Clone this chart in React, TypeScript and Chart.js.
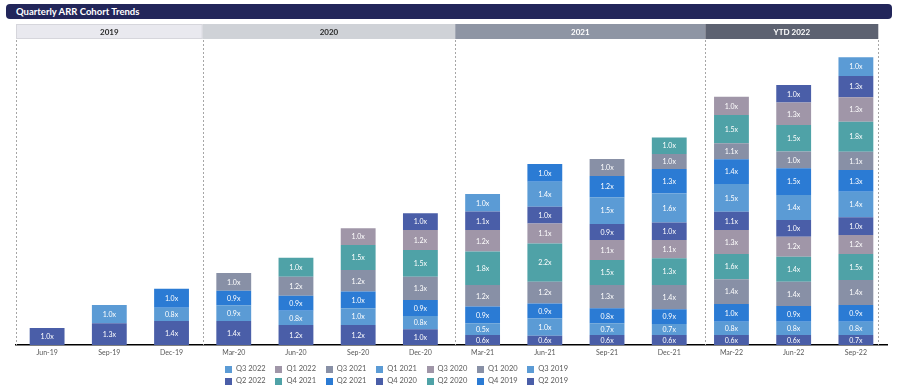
import React, { useEffect, useRef } from "react";
import { Chart, registerables } from "chart.js";

Chart.register(...registerables);

const periods = ["Jun-19", "Sep-19", "Dec-19", "Mar-20", "Jun-20", "Sep-20", "Dec-20", "Mar-21", "Jun-21", "Sep-21", "Dec-21", "Mar-22", "Jun-22", "Sep-22"];
const cohorts = ["Q2 2019", "Q3 2019", "Q4 2019", "Q1 2020", "Q2 2020", "Q3 2020", "Q4 2020", "Q1 2021", "Q2 2021", "Q3 2021", "Q4 2021", "Q1 2022", "Q2 2022", "Q3 2022"];

// ARR by cohort (bottom to top) for each period, arbitrary units
const arrJun19 = [17];
const arrSep19 = [21.7, 18.3];
const arrDec19 = [24, 13.3, 19];
const arrMar20 = [24, 15.7, 14.6, 17.7];
const arrJun20 = [20, 14.3, 15, 19, 19];
const arrSep20 = [20, 16.7, 16.7, 21.7, 25, 16.7];
const arrDec20 = [15.7, 13.3, 16, 23.3, 26.7, 20, 16.7];
const arrMar21 = [10, 11.7, 16.7, 21.7, 33.3, 21.7, 18.3, 17.7];
const arrJun21 = [9.3, 17.3, 15, 21.7, 38.3, 20, 16.7, 25, 17.7];
const arrSep21 = [10, 11.7, 15, 23.3, 25, 20, 16, 26.7, 21.3, 17];
const arrDec21 = [10, 11, 14.7, 24.3, 26.7, 18.3, 17.6, 29, 24.4, 15, 16.6];
const arrMar22 = [10, 13.3, 17.7, 24.7, 25.3, 24, 18.3, 27.7, 24.7, 16, 28.3, 18.3];
const arrJun22 = [10, 13.3, 15.7, 24.3, 25, 20, 16.7, 25, 26.7, 16.7, 26.7, 22.3, 17.7];
const arrSep22 = [10, 13.3, 16.7, 25, 26, 19, 17.7, 25.6, 21.7, 18.3, 30, 24.4, 21.3, 18.7];

// multiplier labels per period (bottom to top)
const lblJun19 = ["1.0x"];
const lblSep19 = ["1.3x", "1.0x"];
const lblDec19 = ["1.4x", "0.8x", "1.0x"];
const lblMar20 = ["1.4x", "0.9x", "0.9x", "1.0x"];
const lblJun20 = ["1.2x", "0.8x", "0.9x", "1.2x", "1.0x"];
const lblSep20 = ["1.2x", "1.0x", "1.0x", "1.2x", "1.5x", "1.0x"];
const lblDec20 = ["1.0x", "0.8x", "0.9x", "1.3x", "1.5x", "1.2x", "1.0x"];
const lblMar21 = ["0.6x", "0.5x", "0.9x", "1.2x", "1.8x", "1.2x", "1.1x", "1.0x"];
const lblJun21 = ["0.6x", "1.0x", "0.9x", "1.2x", "2.2x", "1.1x", "1.0x", "1.4x", "1.0x"];
const lblSep21 = ["0.6x", "0.7x", "0.8x", "1.3x", "1.5x", "1.1x", "0.9x", "1.5x", "1.2x", "1.0x"];
const lblDec21 = ["0.6x", "0.7x", "0.9x", "1.4x", "1.3x", "1.1x", "1.0x", "1.6x", "1.3x", "1.0x", "1.0x"];
const lblMar22 = ["0.6x", "0.8x", "1.0x", "1.4x", "1.6x", "1.3x", "1.1x", "1.5x", "1.4x", "1.1x", "1.5x", "1.0x"];
const lblJun22 = ["0.6x", "0.8x", "0.9x", "1.4x", "1.4x", "1.2x", "1.0x", "1.4x", "1.5x", "1.0x", "1.5x", "1.3x", "1.0x"];
const lblSep22 = ["0.7x", "0.8x", "0.9x", "1.4x", "1.5x", "1.2x", "1.0x", "1.4x", "1.3x", "1.1x", "1.8x", "1.3x", "1.3x", "1.0x"];

const arrByPeriod = [arrJun19, arrSep19, arrDec19, arrMar20, arrJun20, arrSep20, arrDec20, arrMar21, arrJun21, arrSep21, arrDec21, arrMar22, arrJun22, arrSep22];
const lblByPeriod = [lblJun19, lblSep19, lblDec19, lblMar20, lblJun20, lblSep20, lblDec20, lblMar21, lblJun21, lblSep21, lblDec21, lblMar22, lblJun22, lblSep22];

const palette = ["#4a5ea8", "#5b9bd5", "#2b7bd4", "#8890a6", "#4fa2a7", "#a096a8"];
const cohortColors = cohorts.map((_, i) => palette[i % palette.length]);

const yearGroups = ["2019", "2020", "2021", "YTD 2022"];
const legendRow1 = ["Q3 2022", "Q1 2022", "Q3 2021", "Q1 2021", "Q3 2020", "Q1 2020", "Q3 2019"];
const legendRow2 = ["Q2 2022", "Q4 2021", "Q2 2021", "Q4 2020", "Q2 2020", "Q4 2019", "Q2 2019"];

const FONT = "Lato, 'Open Sans', sans-serif";

const headerPlugin = {
  id: "yearHeaders",
  beforeDatasetsDraw(chart: any) {
    const ctx = chart.ctx;
    const xs = chart.scales.x;
    const ca = chart.chartArea;
    const p0 = xs.getPixelForValue(0);
    const step = xs.getPixelForValue(1) - p0;
    const bounds = [-0.5, 2.5, 6.56, 10.58, 13.36];
    const bgs = ["#e9e9ef", "#cfd2d7", "#8e95a4", "#5d6271"];
    const fgs = ["#2b2b2b", "#2b2b2b", "#ffffff", "#ffffff"];
    const top = ca.top - 16;
    const h = 15;
    ctx.save();
    yearGroups.forEach((g, i) => {
      const x1 = p0 + bounds[i] * step;
      const x2 = p0 + bounds[i + 1] * step;
      ctx.fillStyle = bgs[i];
      ctx.fillRect(x1, top, x2 - x1, h);
      ctx.strokeStyle = "#d6d6dc";
      ctx.lineWidth = 1;
      if (i === 0) ctx.strokeRect(x1 + 0.5, top + 0.5, x2 - x1 - 1, h - 1);
      ctx.fillStyle = fgs[i];
      ctx.font = `bold 8px ${FONT}`;
      ctx.textAlign = "center";
      ctx.textBaseline = "middle";
      ctx.fillText(g, (x1 + x2) / 2, top + h / 2 + 0.5);
    });
    ctx.strokeStyle = "#a6a6a6";
    ctx.lineWidth = 1;
    ctx.setLineDash([2, 2]);
    bounds.forEach((b) => {
      const x = Math.round(p0 + b * step) + 0.5;
      ctx.beginPath();
      ctx.moveTo(x, ca.top);
      ctx.lineTo(x, ca.bottom);
      ctx.stroke();
    });
    ctx.restore();
  },
};

const labelPlugin = {
  id: "segLabels",
  afterDatasetsDraw(chart: any) {
    const ctx = chart.ctx;
    ctx.save();
    ctx.font = `7px ${FONT}`;
    ctx.fillStyle = "#ffffff";
    ctx.textAlign = "center";
    ctx.textBaseline = "middle";
    chart.data.datasets.forEach((_: any, i: number) => {
      const meta = chart.getDatasetMeta(i);
      meta.data.forEach((el: any, j: number) => {
        const lbl = lblByPeriod[j][i];
        if (!lbl) return;
        const { x, y, base } = el.getProps(["x", "y", "base"], true);
        ctx.fillText(lbl, x, (y + base) / 2 + 0.5);
      });
    });
    ctx.restore();
  },
};

export default function App() {
  const ref = useRef<HTMLCanvasElement>(null);
  useEffect(() => {
    const datasets = cohorts.map((c, i) => ({
      label: c,
      data: arrByPeriod.map((arr) => (i < arr.length ? arr[i] : null)),
      backgroundColor: cohortColors[i],
      borderWidth: 0,
      barPercentage: 0.56,
      categoryPercentage: 1,
    }));
    const chart = new Chart(ref.current as HTMLCanvasElement, {
      type: "bar",
      data: { labels: periods, datasets },
      options: {
        responsive: false,
        animation: false,
        devicePixelRatio: 1,
        layout: { padding: { left: 16, right: 13, top: 40, bottom: 0 } },
        plugins: { legend: { display: false }, tooltip: { enabled: false }, title: { display: false } },
        scales: {
          x: {
            stacked: true,
            grid: { display: false, drawTicks: false },
            border: { display: true, color: "#000000", width: 1.5 },
            ticks: { color: "#595959", font: { family: FONT, size: 7 }, padding: 4, maxRotation: 0, autoSkip: false },
            afterFit: (s: any) => {
              s.height = 46;
            },
          },
          y: { stacked: true, display: false, min: 0, max: 305 },
        },
      },
      plugins: [headerPlugin, labelPlugin],
    } as any);
    return () => chart.destroy();
  }, []);

  const legendItem = (name: string) => {
    const idx = cohorts.indexOf(name);
    return (
      <div key={name} style={{ display: "flex", alignItems: "center", width: 50.4, height: 12 }}>
        <span style={{ display: "inline-block", width: 7, height: 7, background: cohortColors[idx], marginRight: 4 }} />
        <span style={{ fontSize: 7.5, color: "#595959", whiteSpace: "nowrap", lineHeight: "12px" }}>{name}</span>
      </div>
    );
  };

  return (
    <div style={{ position: "absolute", left: 0, top: 0, width: 900, height: 391, background: "#ffffff", fontFamily: FONT }}>
      <canvas ref={ref} width={900} height={391} style={{ position: "absolute", left: 0, top: 0, width: 900, height: 391 }} />
      <div
        style={{
          position: "absolute",
          left: 6,
          top: 4,
          width: 886,
          height: 15,
          background: "#22265a",
          borderRadius: 4,
          color: "#ffffff",
          fontWeight: 700,
          fontSize: 9.5,
          lineHeight: "15px",
          paddingLeft: 10,
          boxSizing: "border-box",
        }}
      >
        Quarterly ARR Cohort Trends
      </div>
      <div style={{ position: "absolute", left: 225, top: 363, display: "flex", flexDirection: "column" }}>
        <div style={{ display: "flex" }}>{legendRow1.map(legendItem)}</div>
        <div style={{ display: "flex" }}>{legendRow2.map(legendItem)}</div>
      </div>
    </div>
  );
}
